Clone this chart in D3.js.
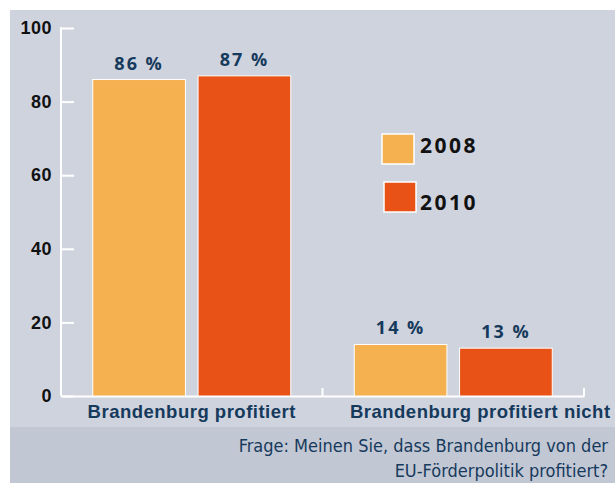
<!DOCTYPE html>
<html>
<head>
<meta charset="utf-8">
<script src="https://cdn.jsdelivr.net/npm/d3@7"></script>
<style>
  body { margin: 0; background: #fff; }
  svg { display: block; font-family: "Open Sans", "DejaVu Sans", sans-serif; }
</style>
</head>
<body>
<div id="chart"></div>
<script>
// data
var categories = ["Brandenburg profitiert", "Brandenburg profitiert nicht"];
var years = ["2008", "2010"];
var values2008 = [86, 14];
var values2010 = [87, 13];
var yTicks = [0, 20, 40, 60, 80, 100];

var colors = { "2008": "#f5b04f", "2010": "#e85216" };

var svgWidth = 615;
var svgHeight = 483;

var margin = { top: 28, right: 31, bottom: 87, left: 61 };
var width = svgWidth - margin.left - margin.right;
var height = 396 - margin.top;

var svg = d3.select("#chart")
  .append("svg")
  .attr("width", svgWidth)
  .attr("height", svgHeight);

// panel background + footer band
svg.append("rect")
  .attr("x", 10).attr("y", 10)
  .attr("width", svgWidth - 10).attr("height", svgHeight - 10)
  .attr("fill", "#cfd3de");
svg.append("rect")
  .attr("x", 10).attr("y", 427)
  .attr("width", svgWidth - 10).attr("height", svgHeight - 427)
  .attr("fill", "#c2c7d4");

var chartGroup = svg.append("g")
  .attr("transform", `translate(${margin.left}, ${margin.top})`);

var x0 = d3.scaleBand()
  .domain(categories)
  .range([0, width])
  .paddingInner(0)
  .paddingOuter(0);

var x1 = d3.scaleBand()
  .domain(years)
  .range([x0.bandwidth() / 2 - 99, x0.bandwidth() / 2 + 99])
  .paddingInner(0.12)
  .paddingOuter(0);

var y = d3.scaleLinear()
  .domain([0, 100])
  .range([height, 0]);

// y axis
var leftAxis = d3.axisLeft(y)
  .tickValues(yTicks)
  .tickSize(-13)
  .tickPadding(9);

var yAxis = chartGroup.append("g").call(leftAxis);
yAxis.select(".domain").remove();
yAxis.selectAll("line").attr("stroke", "#fff").attr("stroke-width", 2);
yAxis.selectAll("text")
  .attr("fill", "#111")
  .attr("font-size", "18px")
  .attr("font-weight", "bold")
  .attr("letter-spacing", "0.5px")
  .attr("x", -9);
yAxis.append("line")
  .attr("x1", 0).attr("x2", 0)
  .attr("y1", y(100) - 1).attr("y2", height)
  .attr("stroke", "#fff").attr("stroke-width", 2);

// x axis
var bottomAxis = d3.axisBottom(x0).tickSize(0).tickPadding(9);
var xAxis = chartGroup.append("g")
  .attr("transform", `translate(0, ${height})`)
  .call(bottomAxis);
xAxis.select(".domain").attr("stroke", "#fff").attr("stroke-width", 2);
xAxis.selectAll("text")
  .attr("fill", "#163a5c")
  .attr("font-size", "18.5px")
  .attr("font-weight", "bold")
  .attr("letter-spacing", "0.5px")
  .attr("dy", "0.71em")
  .attr("dx", (d, i) => i === 1 ? 27 : 0);

// small upward ticks on the baseline between categories
chartGroup.selectAll("line.sep")
  .data([0, width / 2, width])
  .enter()
  .append("line")
  .attr("x1", d => d).attr("x2", d => d)
  .attr("y1", height - 8).attr("y2", height)
  .attr("stroke", "#fff").attr("stroke-width", 2);

// bars
var rows = categories.map((c, i) => ({
  category: c,
  items: [
    { year: "2008", value: values2008[i] },
    { year: "2010", value: values2010[i] }
  ]
}));

var groups = chartGroup.selectAll("g.cat")
  .data(rows)
  .enter()
  .append("g")
  .attr("transform", d => `translate(${x0(d.category)}, 0)`);

groups.selectAll("rect")
  .data(d => d.items)
  .enter()
  .append("rect")
  .attr("x", d => x1(d.year))
  .attr("y", d => y(d.value))
  .attr("width", x1.bandwidth())
  .attr("height", d => height - y(d.value))
  .attr("fill", d => colors[d.year])
  .attr("stroke", "#fff")
  .attr("stroke-width", 1);

groups.selectAll("text.values")
  .data(d => d.items)
  .enter()
  .append("text")
  .attr("x", d => x1(d.year) + x1.bandwidth() / 2)
  .attr("y", d => y(d.value) - 10)
  .attr("text-anchor", "middle")
  .attr("fill", "#163a5c")
  .attr("font-size", "18px")
  .attr("font-weight", "bold")
  .attr("letter-spacing", "2px")
  .text(d => d.value + " %");

// legend
var legend = svg.append("g");
var legendPos = [{ x: 382, y: 134 }, { x: 384, y: 182 }];
years.forEach(function(yr, i) {
  legend.append("rect")
    .attr("x", legendPos[i].x).attr("y", legendPos[i].y)
    .attr("width", 32).attr("height", 30)
    .attr("fill", colors[yr])
    .attr("stroke", "#fff").attr("stroke-width", 1.5);
  legend.append("text")
    .attr("x", 420).attr("y", legendPos[i].y + 19 + i * 9)
    .attr("fill", "#111")
    .attr("font-size", "21px")
    .attr("font-weight", "bold")
    .attr("letter-spacing", "2.5px")
    .text(yr);
});

// footer question
var footer = svg.append("text")
  .attr("text-anchor", "end")
  .attr("fill", "#163a5c")
  .attr("font-family", "'Liberation Sans Narrow', 'DejaVu Sans Condensed', sans-serif")
  .attr("font-size", "18px");
footer.append("tspan").attr("x", 608).attr("y", 452)
  .text("Frage: Meinen Sie, dass Brandenburg von der");
footer.append("tspan").attr("x", 608).attr("y", 477)
  .text("EU-Förderpolitik profitiert?");
</script>
</body>
</html>
